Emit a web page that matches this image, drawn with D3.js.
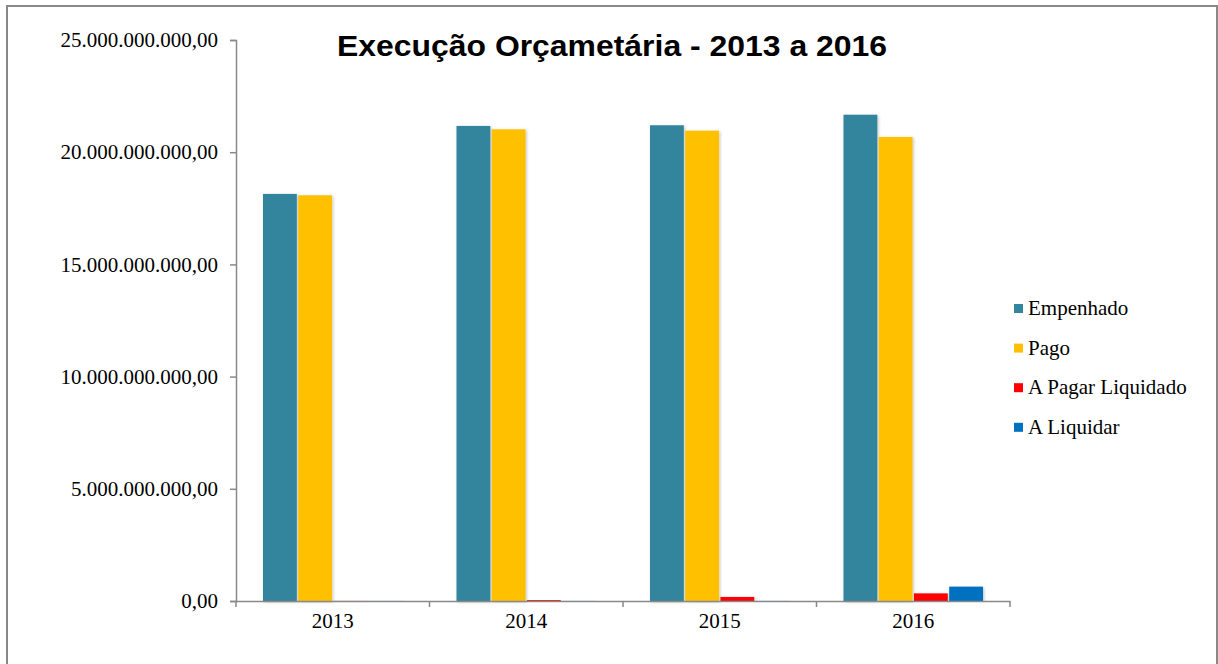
<!DOCTYPE html>
<html lang="pt">
<head>
    <meta charset="UTF-8">
    <title>Execução Orçametária - 2013 a 2016</title>
    <script src="https://d3js.org/d3.v7.min.js"></script>
    <style>
        body { margin: 0; background: #fff; }
        svg { display: block; }
        .serif { font-family: "Liberation Serif", "Times New Roman", serif; }
    </style>
</head>
<body>
    <script>
        const years = ["2013", "2014", "2015", "2016"];
        const seriesNames = ["Empenhado", "Pago", "A Pagar Liquidado", "A Liquidar"];
        const seriesColors = ["#31859C", "#FFC000", "#FF0000", "#0070C0"];
        const empenhado = [18.14e9, 21.17e9, 21.20e9, 21.67e9];
        const pago = [18.08e9, 21.02e9, 20.96e9, 20.68e9];
        const aPagarLiquidado = [0.004e9, 0.04e9, 0.18e9, 0.34e9];
        const aLiquidar = [0.003e9, 0.003e9, 0.003e9, 0.64e9];
        const yTicks = [0, 5e9, 10e9, 15e9, 20e9, 25e9];

        const w = 1218;
        const h = 664;
        const svg = d3.select("body")
            .append("svg")
            .attr("width", w)
            .attr("height", h);

        // soft shadow like the spreadsheet bars
        const defs = svg.append("defs");
        const f = defs.append("filter").attr("id", "shadow")
            .attr("x", "-20%").attr("y", "-5%").attr("width", "140%").attr("height", "110%");
        f.append("feDropShadow").attr("dx", 1).attr("dy", 1).attr("stdDeviation", 1.5)
            .attr("flood-color", "#000").attr("flood-opacity", 0.25);

        // outer frame
        svg.append("rect")
            .attr("x", 7).attr("y", 6)
            .attr("width", 1210).attr("height", 670)
            .attr("fill", "none")
            .attr("stroke", "#898989")
            .attr("stroke-width", 2);

        const ptBR = d3.formatLocale({decimal: ",", thousands: ".", grouping: [3], currency: ["", ""]});
        const fmt = ptBR.format(",.2f");

        const x0 = d3.scaleBand().domain(years).range([236, 1010]).padding(0);
        const x1 = d3.scaleBand().domain(seriesNames)
            .range([27, x0.bandwidth() - 27]).paddingInner(0.04);
        const y = d3.scaleLinear().domain([0, 25e9]).range([601, 40]);

        const table = years.map((yr, i) => ({
            year: yr,
            values: [empenhado[i], pago[i], aPagarLiquidado[i], aLiquidar[i]]
        }));

        // bars
        const groups = svg.selectAll("g.year")
            .data(table)
            .enter()
            .append("g")
            .attr("class", "year")
            .attr("transform", d => "translate(" + x0(d.year) + ",0)");

        groups.selectAll("rect")
            .data(d => d.values.map((v, j) => ({name: seriesNames[j], value: v, color: seriesColors[j]})))
            .enter()
            .append("rect")
            .attr("x", d => x1(d.name))
            .attr("width", x1.bandwidth())
            .attr("y", d => y(d.value))
            .attr("height", d => y(0) - y(d.value))
            .attr("fill", d => d.color)
            .attr("filter", "url(#shadow)");

        // y axis
        const yAxis = svg.append("g")
            .attr("transform", "translate(236,0)")
            .call(d3.axisLeft(y).tickValues(yTicks).tickFormat(fmt).tickSize(6).tickPadding(12));
        yAxis.attr("font-family", null).attr("font-size", null);
        yAxis.select(".domain").attr("stroke", "#898989").attr("stroke-width", 1.5);
        yAxis.selectAll(".tick line").attr("stroke", "#898989").attr("stroke-width", 1.5);
        yAxis.selectAll(".tick text")
            .attr("class", "serif")
            .style("font-size", "21px")
            .attr("fill", "#000");

        // x axis
        const xAxis = svg.append("g")
            .attr("transform", "translate(0,601)")
            .call(d3.axisBottom(x0).tickSize(0).tickPadding(12));
        xAxis.attr("font-family", null).attr("font-size", null);
        xAxis.select(".domain").attr("stroke", "#898989").attr("stroke-width", 1.5);
        xAxis.selectAll(".tick text")
            .attr("class", "serif")
            .style("font-size", "21px")
            .attr("fill", "#000");
        // tick marks between categories
        xAxis.selectAll("line.sep")
            .data(years.map(d => x0(d)).concat([x0.range()[1]]))
            .enter()
            .append("line")
            .attr("class", "sep")
            .attr("x1", d => d).attr("x2", d => d)
            .attr("y1", 0).attr("y2", 6)
            .attr("stroke", "#898989")
            .attr("stroke-width", 1.5);

        // title
        svg.append("text")
            .attr("x", 337)
            .attr("y", 56)
            .attr("textLength", 550)
            .attr("lengthAdjust", "spacingAndGlyphs")
            .attr("font-family", "'Liberation Sans', Arial, sans-serif")
            .attr("font-weight", "bold")
            .attr("font-size", "29px")
            .attr("fill", "#000")
            .text("Execução Orçametária - 2013 a 2016");

        // legend
        const legend = svg.selectAll("g.legend")
            .data(seriesNames)
            .enter()
            .append("g")
            .attr("class", "legend")
            .attr("transform", (d, i) => "translate(1014," + (304 + i * 39.6) + ")");
        legend.append("rect")
            .attr("width", 9).attr("height", 9)
            .attr("fill", (d, i) => seriesColors[i]);
        legend.append("text")
            .attr("class", "serif")
            .attr("x", 14)
            .attr("y", 11)
            .style("font-size", "21px")
            .attr("fill", "#000")
            .text(d => d);
    </script>
</body>
</html>
